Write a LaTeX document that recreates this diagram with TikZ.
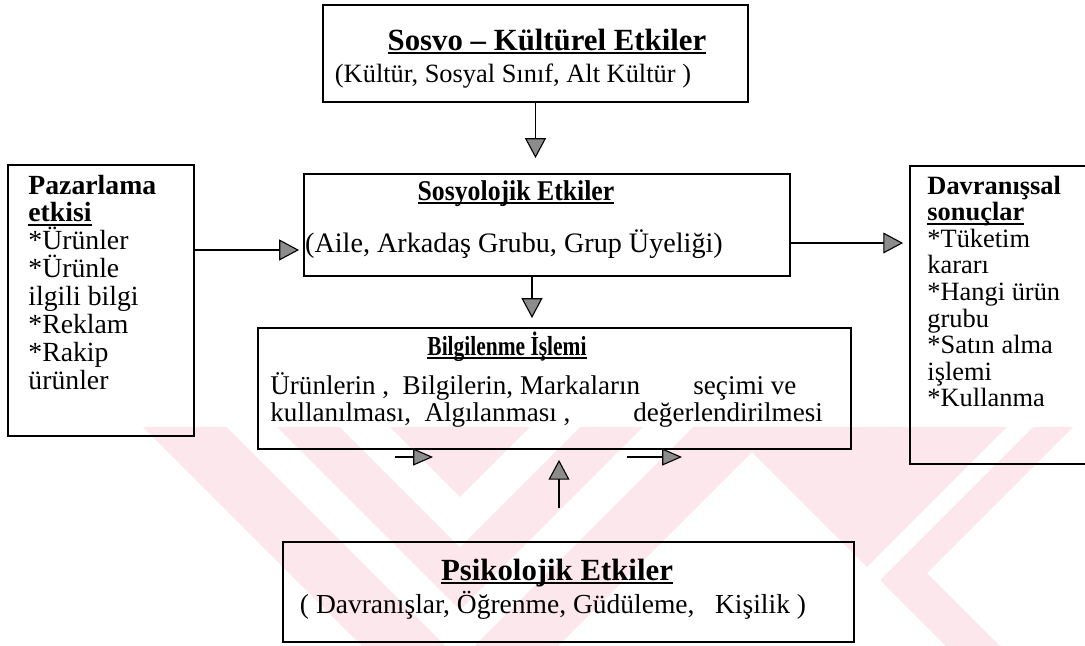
\documentclass[tikz,border=0pt]{standalone}
\usepackage{fontspec}
\usepackage{graphicx}
\setmainfont{Liberation Serif}
\usetikzlibrary{arrows.meta,calc}
\definecolor{wmpink}{RGB}{252,232,236}
\newsavebox\ulbox
\newcommand{\uln}[1]{\sbox\ulbox{#1}\rlap{\rule[-1.8pt]{\wd\ulbox}{0.8pt}}\usebox\ulbox}
\begin{document}
\begin{tikzpicture}[x=0.4545pt,y=-0.4545pt,
  box/.style={draw, line width=0.9pt, anchor=north west, inner sep=0pt},
  wh/.style 2 args={minimum width=#1*0.4545pt, minimum height=#2*0.4545pt},
  txt/.style={inner sep=0pt, anchor=base, font=\fontsize{12}{14}\selectfont},
  ttl/.style={inner sep=0pt, anchor=base, font=\fontsize{14}{16}\selectfont\bfseries},
  lst/.style={inner sep=0pt, anchor=base west, font=\fontsize{12}{14}\selectfont},
  arr/.style={line width=0.8pt, -{Triangle[length=9pt,width=9.5pt,fill=black!45,line width=0.5pt]}},
  arrs/.style={line width=0.8pt, -{Triangle[length=9pt,width=7.7pt,fill=black!45,line width=0.5pt]}},
  ]
\useasboundingbox (0,0) rectangle (1085,645);

% background watermark stripes
\begin{scope}
  \clip (0,427) rectangle (1085,645);
  \fill[wmpink] (143,427) -- (777,427) -- (460,744) -- cycle;
  \fill[wmpink] (777,427) -- (1073,427) -- (927,573) -- (1073,719) -- (1019,719) -- (752,452) -- cycle;
  \fill[white] (227,427) -- (460,660) -- (693,427) -- (643,427) -- (460,610) -- (277,427) -- cycle;
  \fill[white] (340,427) -- (460,547) -- (580,427) -- (530,427) -- (460,497) -- (390,427) -- cycle;
  \fill[white] (1007,427) -- (1033,427) -- (880,580) -- (867,567) -- cycle;
\end{scope}

% boxes
\node[box, wh={425}{97}]  (sosvo) at (322,4)   {};
\node[box, wh={486}{102}] (soc)   at (303,173) {};
\node[box, wh={186}{271}] (pz)    at (7,164)   {};
\node[box, wh={593}{121}] (bilgi) at (257,327) {};
\node[box, wh={186}{298}] (dav)   at (909,165) {};
\node[box, wh={571}{100}] (psi)   at (282,541) {};

% box texts
\node[ttl] (sosvoT) at (547,50)  {\uln{Sosvo – Kültürel Etkiler}};
\node[txt] (sosvoS) at (513,82)  {(Kültür, Sosyal Sınıf, Alt Kültür )};
\node[ttl, font=\fontsize{13}{15}\selectfont\bfseries] (socT) at (516,200) {\scalebox{0.9}[1]{\uln{Sosyolojik Etkiler}}};
\node[txt, font=\fontsize{12.8}{15}\selectfont] (socS) at (514,252) {(Aile, Arkadaş Grubu, Grup Üyeliği)};
\node[ttl, font=\fontsize{12.5}{15}\selectfont\bfseries] (bilT) at (507,355) {\scalebox{0.78}[1]{\uln{Bilgilenme İşlemi}}};
\node[lst, font=\fontsize{12.3}{14}\selectfont] (bil1) at (270,394) {Ürünlerin ,\ \ Bilgilerin, Markaların};
\node[lst, font=\fontsize{12.3}{14}\selectfont] (bil2) at (693,394) {seçimi ve};
\node[lst, font=\fontsize{12.3}{14}\selectfont] (bil3) at (270,421) {kullanılması,\ \ Algılanması ,};
\node[lst, font=\fontsize{12.3}{14}\selectfont] (bil4) at (633,421) {değerlendirilmesi};
\node[ttl] (psiT)   at (557,580) {\uln{Psikolojik Etkiler}};
\node[txt, font=\fontsize{12.5}{15}\selectfont] (psiS) at (553,613) {( Davranışlar, Öğrenme, Güdüleme,\ \ \ Kişilik )};

\foreach \t [count=\i from 0] in {{\bfseries Pazarlama},{\bfseries\uln{etkisi}},*Ürünler,*Ürünle,ilgili bilgi,*Reklam,*Rakip,ürünler}
  \node[lst, font=\fontsize{12.6}{14}\selectfont] (pz\i) at (28,{194+27.9*\i}) {\t};
\foreach \t [count=\i from 0] in {{\bfseries Davranışsal},{\bfseries\uln{sonuçlar}},*Tüketim,kararı,*Hangi ürün,grubu,*Satın alma,işlemi,*Kullanma}
  \node[lst] (dv\i) at (927,{194+26.6*\i}) {\t};

% connectors
\draw[arr, shorten >=6.8pt] (sosvo.south) -- (sosvo.south |- soc.north);
\coordinate (a2) at ($(soc.south)+(-15,0)$);
\draw[arr, shorten >=4.1pt] (a2) -- (a2 |- bilgi.north);
\coordinate (a3) at ($(soc.west)+(0,25)$);
\draw[arr, shorten >=1.8pt] (pz.east |- a3) -- (a3);
\coordinate (a4) at ($(soc.east)+(0,18)$);
\draw[arr, shorten >=2.7pt] (a4) -- (dav.west |- a4);
\coordinate (b1s) at (395,457);
\coordinate (b1e) at (433,457);
\draw[arrs] (b1s) -- (b1e);
\coordinate (b2s) at (627,457);
\coordinate (b2e) at (682,457);
\draw[arrs] (b2s) -- (b2e);
\coordinate (up0) at (559,508);
\draw[arr, shorten >=4.5pt] (up0) -- (up0 |- bilgi.south);
\end{tikzpicture}
\end{document}
